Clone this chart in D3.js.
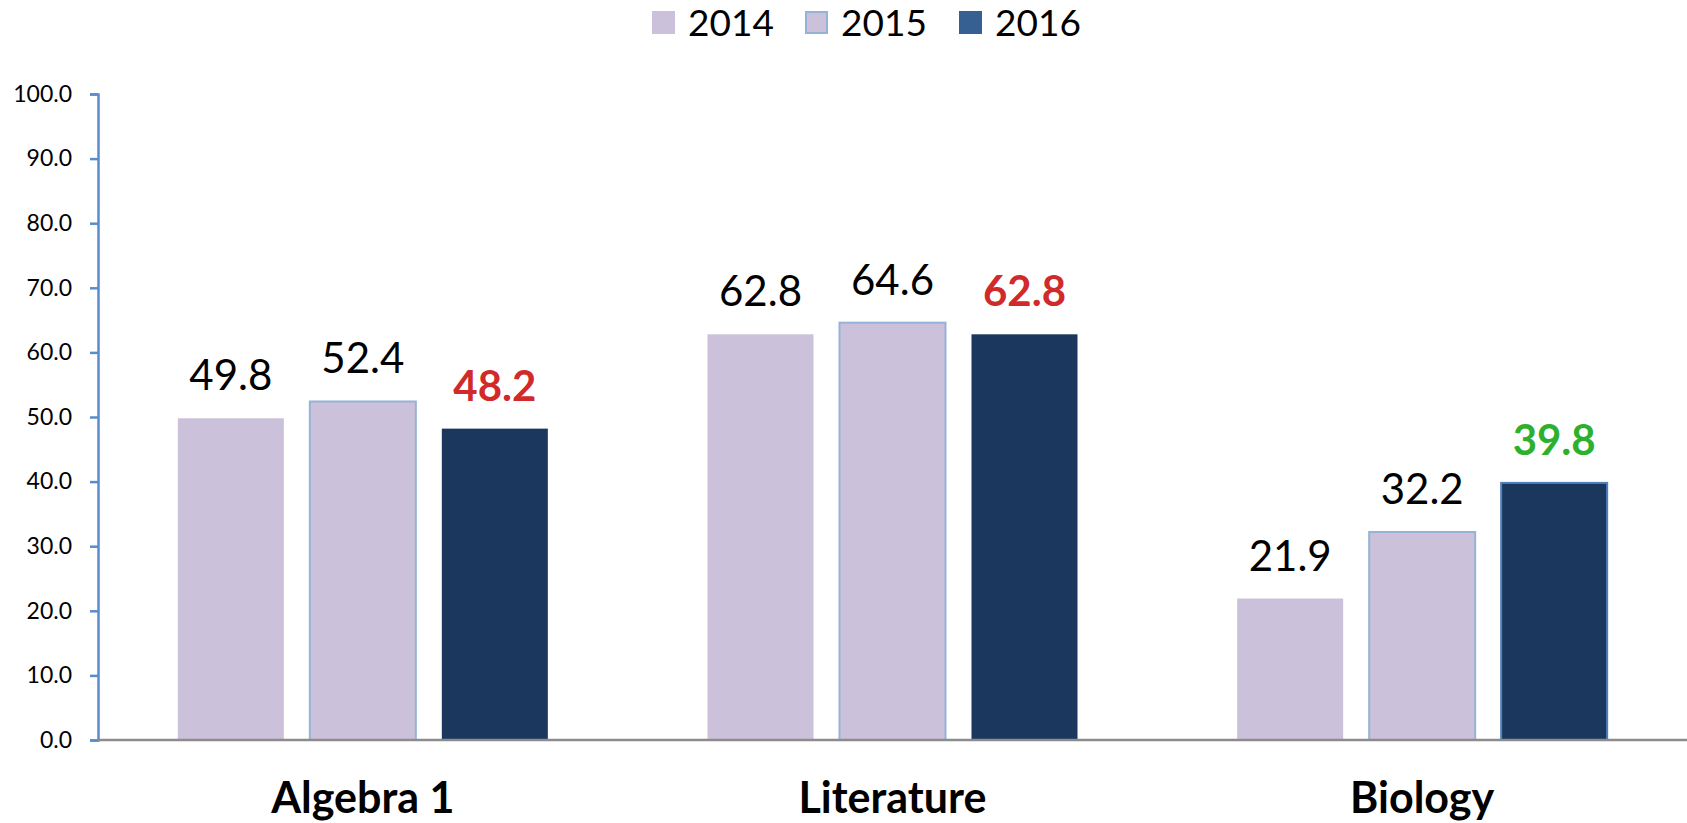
<!DOCTYPE html>
<html>
<head>
<meta charset="utf-8">
<script src="https://cdn.jsdelivr.net/npm/d3@7"></script>
<style>
  body { margin: 0; background: #fff; }
  svg { display: block; font-family: Lato, "Open Sans", sans-serif; }
</style>
</head>
<body>
<script>
let width = 1687;
let height = 823;

// data
let categories = ["Algebra 1", "Literature", "Biology"];
let years = ["2014", "2015", "2016"];
let values2014 = [49.8, 62.8, 21.9];
let values2015 = [52.4, 64.6, 32.2];
let values2016 = [48.2, 62.8, 39.8];
let labelColors2016 = ["#d12a2a", "#d12a2a", "#2db12d"];
let yTicks = [0, 10, 20, 30, 40, 50, 60, 70, 80, 90, 100];

let seriesValues = [values2014, values2015, values2016];
let fills = ["#ccc1da", "#ccc1da", "#1b375e"];
let legendFills = ["#ccc1da", "#ccc1da", "#376092"];
let legendStrokes = [null, "#95b3d7", null];

let margin = {top: 94, right: 0, bottom: 83, left: 98};

let svg = d3.select("body").append("svg")
  .attr("width", width)
  .attr("height", height);

let x0 = d3.scaleBand()
  .domain(categories)
  .range([margin.left, width - margin.right])
  .padding(0);

let x1 = d3.scaleBand()
  .domain(years)
  .range([-185, 185])
  .paddingInner(26 / 132)
  .paddingOuter(0);

let y = d3.scaleLinear()
  .domain([0, 100])
  .range([height - margin.bottom, margin.top]);

// y axis
let yAxis = svg.append("g")
  .attr("transform", `translate(${margin.left},0)`)
  .call(d3.axisLeft(y).tickValues(yTicks).tickFormat(d3.format(".1f")).tickSize(8).tickPadding(18));
yAxis.select(".domain").attr("stroke", "#5a8ccd").attr("stroke-width", 2.5);
yAxis.selectAll(".tick line").attr("stroke", "#5a8ccd").attr("stroke-width", 2.5);
yAxis.selectAll(".tick text")
  .attr("fill", "#000")
  .style("font-size", "23px")
  .style("font-family", "Lato, sans-serif");

// bars
let rows = categories.map((c, i) => ({
  cat: c,
  items: years.map((yr, j) => ({cat: c, year: yr, idx: j, ci: i, value: seriesValues[j][i]}))
}));

let groups = svg.selectAll(".group").data(rows).enter().append("g")
  .attr("class", "group")
  .attr("transform", d => `translate(${x0(d.cat) + x0.bandwidth() / 2},0)`);

groups.selectAll("rect").data(d => d.items).enter().append("rect")
  .attr("x", d => x1(d.year))
  .attr("y", d => y(d.value))
  .attr("width", x1.bandwidth())
  .attr("height", d => y(0) - y(d.value))
  .attr("fill", d => fills[d.idx])
  .attr("stroke", d => d.idx === 1 ? "#95b3d7" : (d.idx === 2 && d.ci === 2 ? "#4f81bd" : "none"))
  .attr("stroke-width", 2);

groups.selectAll(".val").data(d => d.items).enter().append("text")
  .attr("class", "val")
  .attr("x", d => x1(d.year) + x1.bandwidth() / 2)
  .attr("y", d => y(d.value) - 28)
  .attr("text-anchor", "middle")
  .attr("fill", d => d.idx === 2 ? labelColors2016[d.ci] : "#000")
  .style("font-size", "42px")
  .style("font-weight", d => d.idx === 2 ? "bold" : "normal")
  .text(d => d.value.toFixed(1));

// x axis line
svg.append("line")
  .attr("x1", margin.left)
  .attr("x2", width)
  .attr("y1", y(0))
  .attr("y2", y(0))
  .attr("stroke", "#8c8c8c")
  .attr("stroke-width", 2.5);

// category labels
svg.selectAll(".cat").data(categories).enter().append("text")
  .attr("class", "cat")
  .attr("x", d => x0(d) + x0.bandwidth() / 2)
  .attr("y", 813)
  .attr("text-anchor", "middle")
  .style("font-size", "43px")
  .style("font-weight", "bold")
  .text(d => d);

// legend
let legendX = [652, 805, 959];
let legend = svg.selectAll(".legend").data(years).enter().append("g")
  .attr("class", "legend")
  .attr("transform", (d, i) => `translate(${legendX[i]},11)`);
legend.append("rect")
  .attr("x", (d, i) => legendStrokes[i] ? 1 : 0)
  .attr("y", (d, i) => legendStrokes[i] ? 1 : 0)
  .attr("width", (d, i) => legendStrokes[i] ? 21 : 23)
  .attr("height", (d, i) => legendStrokes[i] ? 21 : 23)
  .attr("fill", (d, i) => legendFills[i])
  .attr("stroke", (d, i) => legendStrokes[i] || "none")
  .attr("stroke-width", 2);
legend.append("text")
  .attr("x", 36)
  .attr("y", 25)
  .style("font-size", "37px")
  .text(d => d);
</script>
</body>
</html>
